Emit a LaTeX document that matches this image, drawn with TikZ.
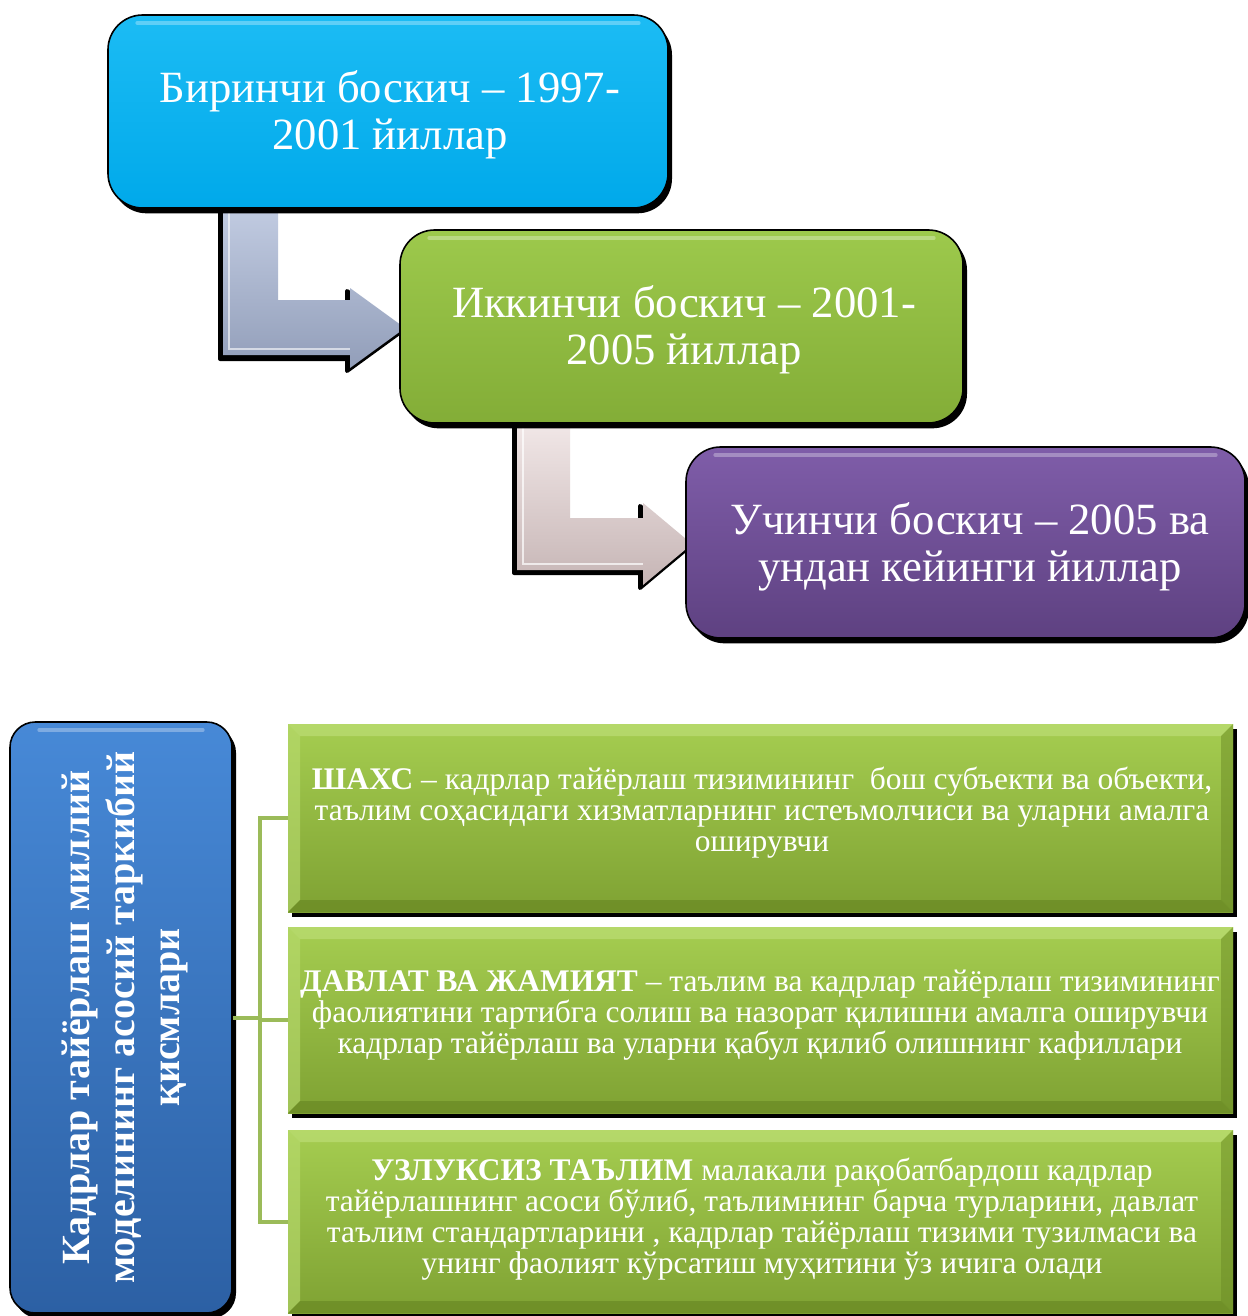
\documentclass[tikz,border=0pt]{standalone}
\usepackage{fontspec}
\setmainfont{Liberation Serif}
\usetikzlibrary{calc,shadows}
\definecolor{bluetop}{HTML}{1CBCF4}
\definecolor{bluebot}{HTML}{00A9EA}
\definecolor{greentop}{HTML}{9DC94C}
\definecolor{greenbot}{HTML}{83AD37}
\definecolor{purtop}{HTML}{7F5DA9}
\definecolor{purbot}{HTML}{5E4181}
\definecolor{lbtop}{HTML}{4789D7}
\definecolor{lbbot}{HTML}{2C60A4}
\definecolor{rtop}{HTML}{A5CD50}
\definecolor{rbot}{HTML}{7FA233}
\definecolor{bevlight}{HTML}{B9DB70}
\definecolor{bevdark}{HTML}{6C8C26}
\definecolor{connc}{HTML}{9BBB59}
\definecolor{arAtop}{HTML}{C2CCE2}
\definecolor{arAbot}{HTML}{929EB9}
\definecolor{arBtop}{HTML}{F2E8E8}
\definecolor{arBbot}{HTML}{C6B5B5}
\begin{document}
\begin{tikzpicture}[x=0.75pt,y=-0.75pt,
  stage/.style={rounded corners=26pt, inner sep=0pt, draw=black, line width=1.2pt,
    text=white, align=center, font=\fontsize{33.5}{35}\selectfont,
    general shadow={fill=black, shadow xshift=3pt, shadow yshift=-4pt},
    path picture={\draw[white,opacity=0.3,line width=3pt,line cap=round]
      ([xshift=22pt,yshift=-6pt]path picture bounding box.north west) --
      ([xshift=-22pt,yshift=-6pt]path picture bounding box.north east);}},
  bevelbox/.style={rectangle, inner sep=0pt, minimum width=708.75pt,
    top color=rtop, bottom color=rbot,
    general shadow={fill=black, shadow xshift=3pt, shadow yshift=-4pt},
    path picture={
      \fill[bevlight,opacity=0.8] (path picture bounding box.north west) -- (path picture bounding box.north east)
        -- ([xshift=-9pt,yshift=-9pt]path picture bounding box.north east) -- ([xshift=9pt,yshift=-9pt]path picture bounding box.north west) -- cycle;
      \fill[bevlight,opacity=0.6] (path picture bounding box.north west) -- (path picture bounding box.south west)
        -- ([xshift=9pt,yshift=9pt]path picture bounding box.south west) -- ([xshift=9pt,yshift=-9pt]path picture bounding box.north west) -- cycle;
      \fill[bevdark,opacity=0.5] (path picture bounding box.north east) -- (path picture bounding box.south east)
        -- ([xshift=-9pt,yshift=9pt]path picture bounding box.south east) -- ([xshift=-9pt,yshift=-9pt]path picture bounding box.north east) -- cycle;
      \fill[bevdark,opacity=0.8] (path picture bounding box.south west) -- (path picture bounding box.south east)
        -- ([xshift=-9pt,yshift=9pt]path picture bounding box.south east) -- ([xshift=9pt,yshift=9pt]path picture bounding box.south west) -- cycle;
    }},
  bodytext/.style={text=white, align=center, font=\fontsize{23.6}{23.25}\selectfont, inner sep=0pt},
  conn/.style={draw=connc, line width=3pt},
  arrowshadow/.style={fill=black, draw=black, line width=3pt, line join=round}
]
\useasboundingbox (0,0) rectangle (1248,1316);
\fill[white] (0,0) rectangle (1248,1316);

% bent arrows (behind the boxes)
\fill[arrowshadow] (220,205) -- (275,205) -- (275,303) -- (347,303) -- (347,291) -- (402,331) -- (347,371) -- (347,359) -- (220,359) -- cycle;
\shade[top color=arAtop, bottom color=arAbot] (223,205) -- (278,205) -- (278,300) -- (350,300) -- (350,288) -- (405,328) -- (350,368) -- (350,355) -- (223,355) -- cycle;
\draw[white,opacity=0.6,line width=1.5pt] (229,210) -- (229,349) -- (350,349);
\fill[arrowshadow] (514,420) -- (567,420) -- (567,521) -- (640,521) -- (640,506) -- (689,547) -- (640,588) -- (640,573) -- (514,573) -- cycle;
\shade[top color=arBtop, bottom color=arBbot] (517,420) -- (570,420) -- (570,518) -- (643,518) -- (643,503) -- (692,544) -- (643,585) -- (643,570) -- (517,570) -- cycle;
\draw[white,opacity=0.7,line width=1.5pt] (523,425) -- (523,564) -- (643,564);

% stage boxes
\node[stage, top color=bluetop, bottom color=bluebot, minimum width=420pt, minimum height=144.75pt]
  (b1) at (388,111.5) {};
\node[text=white, align=center, font=\fontsize{33.5}{35}\selectfont, inner sep=0pt] (b1t) at (390,115) {Биринчи боскич – 1997-\\2001 йиллар};
\node[stage, top color=greentop, bottom color=greenbot, minimum width=422.25pt, minimum height=144.75pt]
  (b2) at (681.5,326.5) {};
\node[text=white, align=center, font=\fontsize{33.5}{35}\selectfont, inner sep=0pt] (b2t) at (684,330) {Иккинчи боскич – 2001-\\2005 йиллар};
\node[stage, top color=purtop, bottom color=purbot, minimum width=419.25pt, minimum height=143.25pt]
  (b3) at (965.5,542.5) {};
\node[text=white, align=center, font=\fontsize{33.5}{35}\selectfont, inner sep=0pt] (b3t) at (970,546.5) {Учинчи боскич – 2005 ва\\ундан кейинги йиллар};

% left vertical box
\node[stage, rounded corners=19pt, top color=lbtop, bottom color=lbbot, minimum width=166.5pt, minimum height=443.25pt]
  (L) at (121,1017.5) {};
\node[rotate=90, text=white, align=center, font=\bfseries\fontsize{30}{33.75}\selectfont, inner sep=0pt]
  (Lt) at ([xshift=3pt]L.center) {Кадрлар тайёрлаш миллий\\моделининг асосий таркибий\\қисмлари};

% green boxes
\node[bevelbox, minimum height=141pt] (A) at (760.5,818) {};
\node[bevelbox, minimum height=139.5pt] (B) at (760.5,1020) {};
\node[bevelbox, minimum height=137.25pt] (C) at (760.5,1221.5) {};
\node[bodytext] (At) at (762,813) {\textbf{ШАХС} – кадрлар тайёрлаш тизимининг \ бош субъекти ва объекти,\\таълим соҳасидаги хизматларнинг истеъмолчиси ва уларни амалга\\оширувчи};
\node[bodytext] (Bt) at (760,1015) {\textbf{ДАВЛАТ ВА ЖАМИЯТ} – таълим ва кадрлар тайёрлаш тизимининг\\фаолиятини тартибга солиш ва назорат қилишни амалга оширувчи\\кадрлар тайёрлаш ва уларни қабул қилиб олишнинг кафиллари};
\node[bodytext] (Ct) at (762,1219) {\textbf{УЗЛУКСИЗ ТАЪЛИМ} малакали рақобатбардош кадрлар\\тайёрлашнинг асоси бўлиб, таълимнинг барча турларини, давлат\\таълим стандартларини , кадрлар тайёрлаш тизими тузилмаси ва\\унинг фаолият кўрсатиш муҳитини ўз ичига олади};

% connectors
\coordinate (fork) at (260,1017.5);
\draw[conn] (L.east) -- (L.east -| fork);
\draw[conn] (A.west) -- (A.west -| fork) -- (C.west -| fork) -- (C.west);
\draw[conn] (B.west -| fork) -- (B.west);
\end{tikzpicture}
\end{document}
